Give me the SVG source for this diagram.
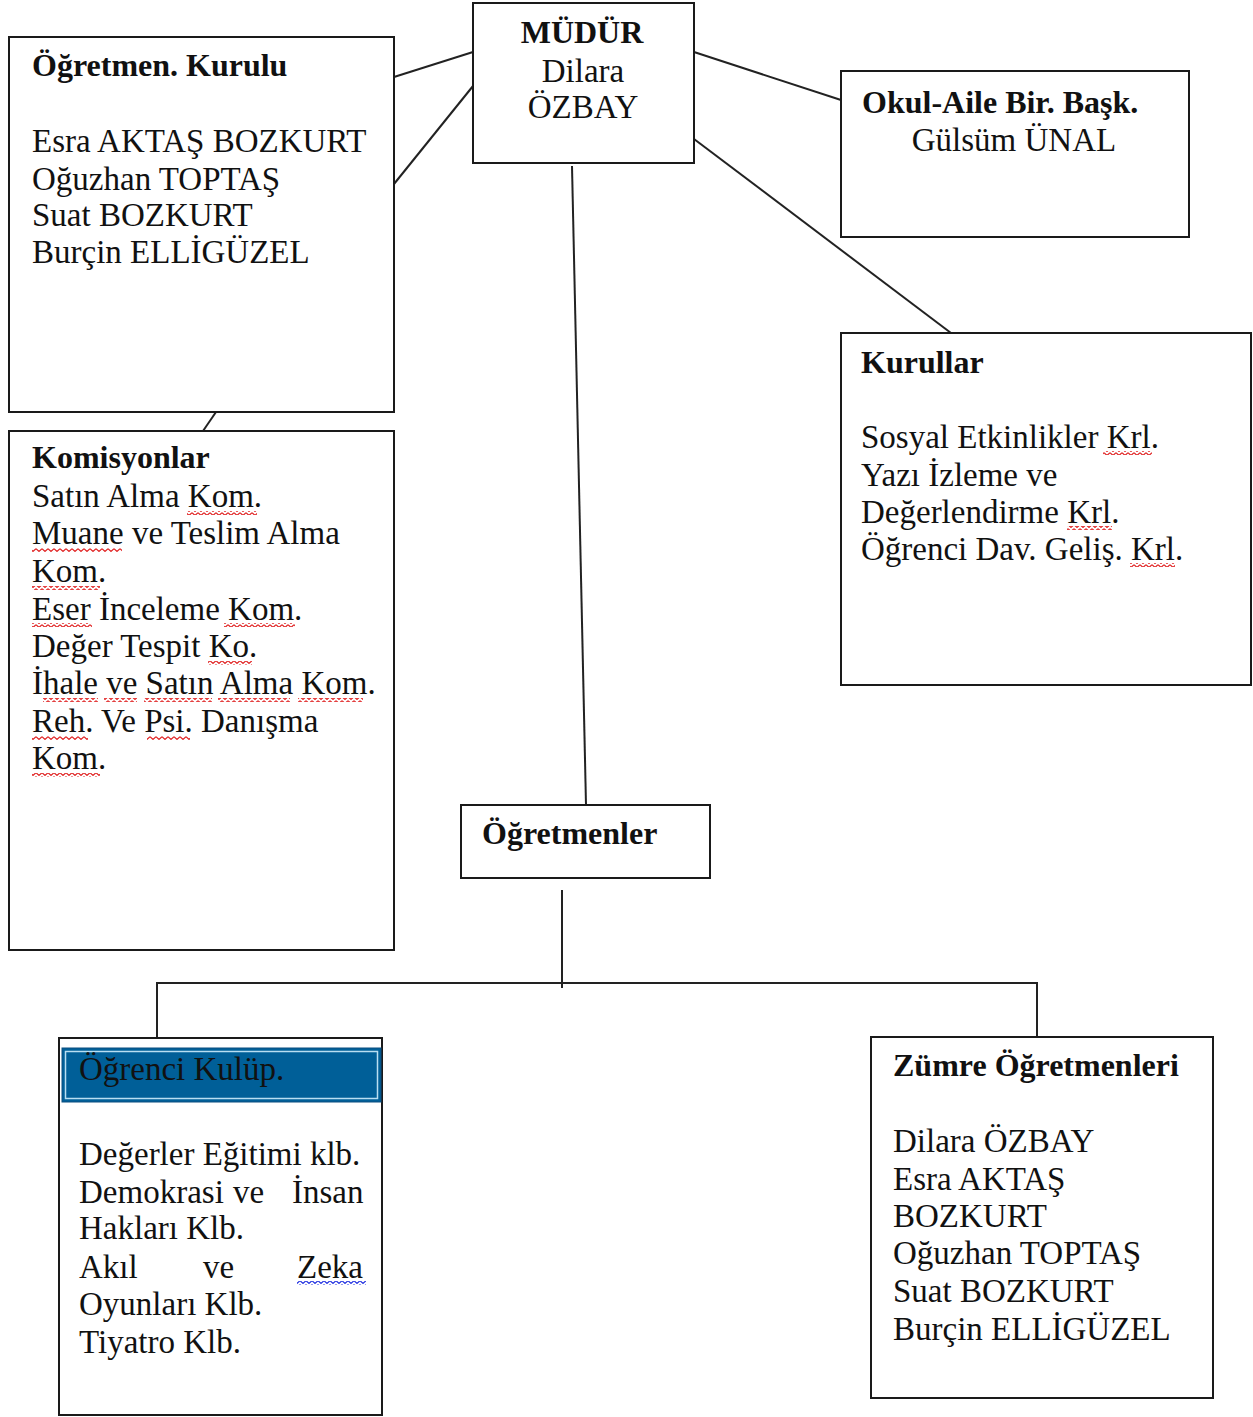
<svg xmlns="http://www.w3.org/2000/svg" width="1253" height="1417" viewBox="0 0 1253 1417">
<style>
.box{fill:#fff;stroke:#1a1a1a;stroke-width:2}
.t{font-family:"Liberation Serif","Times New Roman",serif;font-size:33px;fill:#111}
.b{font-weight:bold;font-size:32px}
.c{text-anchor:middle}
.ln{stroke:#222;stroke-width:2;fill:none}
.wr{fill:url(#wr)}
.wb{fill:url(#wb)}
</style>
<defs>
<pattern id="wr" width="6" height="4" patternUnits="userSpaceOnUse"><path d="M0 0.8 L3 3.4 L6 0.8" fill="none" stroke="#e02020" stroke-width="1.2"/></pattern>
<pattern id="wb" width="6" height="4" patternUnits="userSpaceOnUse"><path d="M0 0.8 L3 3.4 L6 0.8" fill="none" stroke="#2030e0" stroke-width="1.2"/></pattern>
</defs>
<rect width="1253" height="1417" fill="#fff"/>
<g id="connectors">
<line class="ln" x1="394" y1="77" x2="473" y2="52"/>
<line class="ln" x1="394" y1="184" x2="473" y2="86"/>
<line class="ln" x1="694" y1="52" x2="841" y2="100"/>
<line class="ln" x1="694" y1="139" x2="951" y2="333"/>
<line class="ln" x1="572" y1="166" x2="586" y2="805"/>
<line class="ln" x1="216" y1="412" x2="203" y2="431"/>
<line class="ln" x1="562" y1="890" x2="562" y2="988"/>
<polyline class="ln" points="157,1037 157,983 1037,983 1037,1037"/>
</g>
<g id="mudur">
<rect class="box" x="473" y="3" width="221" height="160"/>
<text class="t b c" x="582" y="43">MÜDÜR</text>
<text class="t c" x="583" y="82">Dilara</text>
<text class="t c" x="583" y="118">ÖZBAY</text>
</g>
<g id="ogretmen-kurulu">
<rect class="box" x="9" y="37" width="385" height="375"/>
<text class="t b" x="32" y="76">Öğretmen. Kurulu</text>
<text class="t" x="32" y="152">Esra AKTAŞ BOZKURT</text>
<text class="t" x="32" y="190">Oğuzhan TOPTAŞ</text>
<text class="t" x="32" y="226">Suat BOZKURT</text>
<text class="t" x="32" y="263">Burçin ELLİGÜZEL</text>
</g>
<g id="okul-aile">
<rect class="box" x="841" y="71" width="348" height="166"/>
<text class="t b" x="862" y="113">Okul-Aile Bir. Başk.</text>
<text class="t c" x="1014" y="151">Gülsüm ÜNAL</text>
</g>
<g id="kurullar">
<rect class="box" x="841" y="333" width="410" height="352"/>
<text class="t b" x="861" y="373">Kurullar</text>
<text class="t" x="861" y="448">Sosyal Etkinlikler Krl.</text>
<text class="t" x="861" y="486">Yazı İzleme ve</text>
<text class="t" x="861" y="523">Değerlendirme Krl.</text>
<text class="t" x="861" y="560">Öğrenci Dav. Geliş. Krl.</text>
<rect class="wr" x="1103" y="451" width="49" height="4"/>
<rect class="wr" x="1067" y="526" width="45" height="4"/>
<rect class="wr" x="1130" y="563" width="45" height="4"/>
</g>
<g id="komisyonlar">
<rect class="box" x="9" y="431" width="385" height="519"/>
<text class="t b" x="32" y="468">Komisyonlar</text>
<text class="t" x="32" y="507">Satın Alma Kom.</text>
<text class="t" x="32" y="544">Muane ve Teslim Alma</text>
<text class="t" x="32" y="582">Kom.</text>
<text class="t" x="32" y="620">Eser İnceleme Kom.</text>
<text class="t" x="32" y="657">Değer Tespit Ko.</text>
<text class="t" x="32" y="694">İhale ve Satın Alma Kom.</text>
<text class="t" x="32" y="732">Reh.  Ve Psi. Danışma</text>
<text class="t" x="32" y="769">Kom.</text>
<rect class="wr" x="187" y="511" width="70" height="4"/>
<rect class="wr" x="32" y="548" width="90" height="4"/>
<rect class="wr" x="32" y="586" width="68" height="4"/>
<rect class="wr" x="32" y="623" width="60" height="4"/>
<rect class="wr" x="224" y="623" width="71" height="4"/>
<rect class="wr" x="208" y="661" width="44" height="4"/>
<rect class="wr" x="43" y="698" width="55" height="4"/>
<rect class="wr" x="104" y="698" width="33" height="4"/>
<rect class="wr" x="144" y="698" width="68" height="4"/>
<rect class="wr" x="218" y="698" width="72" height="4"/>
<rect class="wr" x="298" y="698" width="65" height="4"/>
<rect class="wr" x="32" y="736" width="56" height="4"/>
<rect class="wr" x="147" y="736" width="43" height="4"/>
<rect class="wr" x="32" y="773" width="68" height="4"/>
</g>
<g id="ogretmenler">
<rect class="box" x="461" y="805" width="249" height="73"/>
<text class="t b" x="482" y="844">Öğretmenler</text>
</g>
<g id="ogrenci-kulup">
<rect class="box" x="59" y="1038" width="323" height="377"/>
<rect x="62" y="1048" width="319" height="54" fill="#005f98" stroke="#0a4f80" stroke-width="1"/>
<rect x="65.5" y="1051.5" width="312" height="47" fill="none" stroke="#b8def2" stroke-width="1.5"/>
<text class="t" x="79" y="1080">Öğrenci Kulüp.</text>
<text class="t" x="79" y="1165">Değerler Eğitimi klb.</text>
<text class="t" x="79" y="1203">Demokrasi</text>
<text class="t" x="233" y="1203">ve</text>
<text class="t" x="292" y="1203">İnsan</text>
<text class="t" x="79" y="1239">Hakları Klb.</text>
<text class="t" x="79" y="1278">Akıl</text>
<text class="t" x="203" y="1278">ve</text>
<text class="t" x="297" y="1278">Zeka</text>
<text class="t" x="79" y="1315">Oyunları Klb.</text>
<text class="t" x="79" y="1353">Tiyatro Klb.</text>
<rect class="wb" x="297" y="1281" width="69" height="4"/>
</g>
<g id="zumre">
<rect class="box" x="871" y="1037" width="342" height="361"/>
<text class="t b" x="893" y="1076">Zümre Öğretmenleri</text>
<text class="t" x="893" y="1152">Dilara ÖZBAY</text>
<text class="t" x="893" y="1190">Esra AKTAŞ</text>
<text class="t" x="893" y="1227">BOZKURT</text>
<text class="t" x="893" y="1264">Oğuzhan TOPTAŞ</text>
<text class="t" x="893" y="1302">Suat BOZKURT</text>
<text class="t" x="893" y="1340">Burçin ELLİGÜZEL</text>
</g>
</svg>
